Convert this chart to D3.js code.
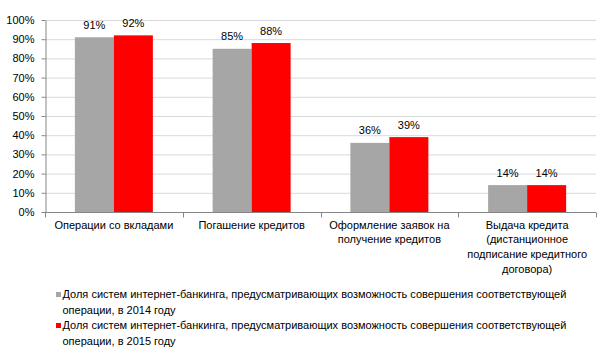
<!DOCTYPE html>
<html><head><meta charset="utf-8">
<script src="https://cdn.jsdelivr.net/npm/d3@7"></script>
<style>body{margin:0;background:#fff}svg{display:block}text{font-family:"Liberation Sans",Arial,sans-serif;fill:#000}</style>
</head><body><svg id="c" width="603" height="355"></svg>
<script>
const categories = [
  ["Операции со вкладами"],
  ["Погашение кредитов"],
  ["Оформление заявок на","получение кредитов"],
  ["Выдача кредита","(дистанционное","подписание кредитного","договора)"]
];
const series2014 = [91, 85, 36, 14];
const series2015 = [92, 88, 39, 14];
const seriesNames = [
  ["Доля систем интернет-банкинга, предусматривающих возможность совершения соответствующей","операции, в 2014 году"],
  ["Доля систем интернет-банкинга, предусматривающих возможность совершения соответствующей","операции, в 2015 году"]
];
const colors = ["#a6a6a6", "#ff0000"];
const yTicks = [0,10,20,30,40,50,60,70,80,90,100];

(function(){
const svg = d3.select("#c");
const left = 45, right = 596, plotTop = 20, bottom = 212;
const x = d3.scaleBand().domain(d3.range(categories.length)).range([left, right]).paddingInner(0).paddingOuter(0);
const y = d3.scaleLinear().domain([0,100]).range([bottom, plotTop]);
const inner = d3.scaleBand().domain([0,1]).range([0, x.bandwidth()]).paddingOuter(0.766).paddingInner(0);

svg.append("g").selectAll("line").data(yTicks.filter(d=>d>0)).join("line")
  .attr("x1", left).attr("x2", right).attr("y1", d=>y(d)+0.5).attr("y2", d=>y(d)+0.5)
  .attr("stroke", "#d9d9d9").attr("stroke-width", 1);

const ya = svg.append("g").attr("transform", `translate(${left+0.5},0)`)
  .call(d3.axisLeft(y).tickValues(yTicks).tickFormat(d=>d+"%").tickSize(4).tickPadding(7).tickSizeOuter(0));
ya.attr("font-family", null).attr("font-size", null);
ya.select(".domain").attr("stroke", "#868686");
ya.selectAll(".tick line").attr("stroke", "#868686");
ya.selectAll("text").style("font-size", "11px").attr("fill", "#000");

const data = [series2014, series2015];
data.forEach((s, si) => {
  svg.append("g").selectAll("rect").data(s).join("rect")
    .attr("x", (d,i)=>x(i)+inner(si)).attr("width", inner.bandwidth())
    .attr("y", d=>y(d)).attr("height", d=>bottom-y(d)).attr("fill", colors[si]);
  svg.append("g").selectAll("text").data(s).join("text")
    .attr("x", (d,i)=>x(i)+inner(si)+inner.bandwidth()/2).attr("y", d=>y(d)-8.5)
    .attr("text-anchor", "middle").style("font-size", "11px").text(d=>d+"%");
});

const xa = svg.append("g").attr("transform", `translate(0,${bottom+0.5})`);
xa.append("line").attr("x1", left).attr("x2", right).attr("stroke", "#868686");
const bounds = d3.range(categories.length+1).map(i => i<categories.length ? x(i) : right);
xa.selectAll("line.t").data(bounds).join("line").attr("class","t")
  .attr("x1", d=>Math.round(d)+0.5).attr("x2", d=>Math.round(d)+0.5).attr("y1", 0).attr("y2", 5).attr("stroke", "#868686");
categories.forEach((lines, i) => {
  const t = svg.append("text").attr("text-anchor","middle").style("font-size","11px");
  lines.forEach((l, k) => t.append("tspan").attr("x", x(i)+x.bandwidth()/2).attr("y", 228.5 + k*14.8).text(l));
});

seriesNames.forEach((lines, si) => {
  const y0 = 298 + si*31;
  svg.append("rect").attr("x", 56).attr("y", y0-6).attr("width", 5).attr("height", 5).attr("fill", colors[si]);
  const t = svg.append("text").style("font-size","11px");
  lines.forEach((l,k) => t.append("tspan").attr("x", 62.5).attr("y", y0 + k*15.5).text(l));
});
})();
</script></body></html>
